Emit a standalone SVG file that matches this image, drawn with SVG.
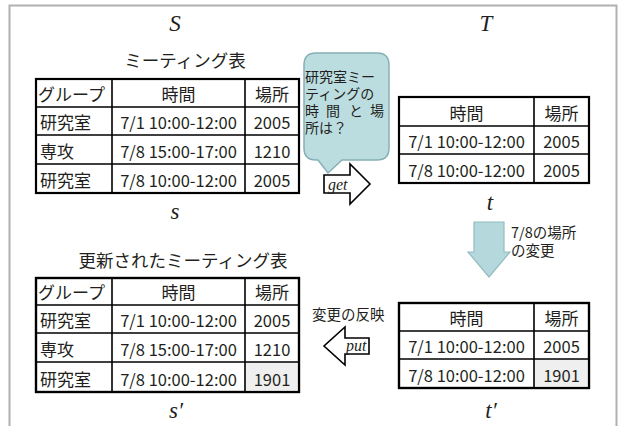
<svg xmlns="http://www.w3.org/2000/svg" width="619" height="426" viewBox="0 0 619 426">
<style>
.jp{font-family:"Noto Sans CJK JP","Noto Sans",sans-serif;fill:#231f20}
.cell{font-size:17px}
.num{font-size:16.5px}
.title{font-size:17.5px}
.small{font-size:14.5px}
.bub{font-size:14px}
.math{font-family:"Liberation Serif",serif;font-style:italic;fill:#231f20}
.big{font-size:23px}
.lbl{font-size:16px}
.outer{fill:#fff;stroke:#000;stroke-width:2.2}
.inner{stroke:#000;stroke-width:1.6}
.shade{fill:#efefef}
.mid{text-anchor:middle}
.hollow{fill:#fff;stroke:#000;stroke-width:1.6;stroke-linejoin:miter}
</style>
<path d="M9.5,426 V5.5 H616.5 V426" fill="none" stroke="#b0b0b0" stroke-width="2"/>

<g id="label-S"><text class="math big mid" x="175" y="31">S</text></g>
<g id="label-T"><text class="math big mid" x="486" y="31">T</text></g>

<g id="table-s">
<text class="jp title mid" x="185" y="67">ミーティング表</text>
<rect class="outer" x="36" y="79" width="263" height="114"/>
<path class="inner" d="M36,107H299M36,135H299M36,164H299M112,79V193M245,79V193"/>
<text class="jp cell" x="38" y="101">グループ</text>
<text class="jp cell mid" x="178.5" y="101">時間</text>
<text class="jp cell mid" x="272" y="101">場所</text>
<text class="jp cell" x="40" y="129">研究室</text>
<text class="jp num mid" x="178.5" y="129">7/1 10:00-12:00</text>
<text class="jp num mid" x="272" y="129">2005</text>
<text class="jp cell" x="40" y="158">専攻</text>
<text class="jp num mid" x="178.5" y="158">7/8 15:00-17:00</text>
<text class="jp num mid" x="272" y="158">1210</text>
<text class="jp cell" x="40" y="187">研究室</text>
<text class="jp num mid" x="178.5" y="187">7/8 10:00-12:00</text>
<text class="jp num mid" x="272" y="187">2005</text>
<text class="math big mid" x="175" y="219">s</text>
</g>

<g id="bubble">
<path d="M316,53 H377 Q389,53 389,65 V148 Q389,160 377,160 H342 L328,173 L318,160 H316 Q304,160 304,148 V65 Q304,53 316,53 Z" fill="#bcdde0" stroke="#86b0b5" stroke-width="1.5"/>
<text class="jp bub" x="305" y="82">研究室ミー</text>
<text class="jp bub" x="305" y="99">ティングの</text>
<text class="jp bub" x="305" y="116">時</text>
<text class="jp bub" x="326" y="116">間</text>
<text class="jp bub" x="349" y="116">と</text>
<text class="jp bub" x="370" y="116">場</text>
<text class="jp bub" x="305" y="133">所は？</text>
</g>

<g id="table-t">
<rect class="outer" x="399" y="97" width="190" height="86"/>
<path class="inner" d="M399,126H589M399,154H589M534,97V183"/>
<text class="jp cell mid" x="466.5" y="120">時間</text>
<text class="jp cell mid" x="561.5" y="120">場所</text>
<text class="jp num mid" x="466.5" y="148">7/1 10:00-12:00</text>
<text class="jp num mid" x="561.5" y="148">2005</text>
<text class="jp num mid" x="466.5" y="177">7/8 10:00-12:00</text>
<text class="jp num mid" x="561.5" y="177">2005</text>
<text class="math big mid" x="490" y="210">t</text>
</g>

<g id="table-s2">
<text class="jp title mid" x="183" y="267">更新されたミーティング表</text>
<rect class="outer" x="36" y="278" width="263" height="114"/>
<rect class="shade" x="245" y="362" width="54" height="30"/>
<rect x="36" y="278" width="263" height="114" fill="none" stroke="#000" stroke-width="2.2"/>
<path class="inner" d="M36,305H299M36,333H299M36,362H299M112,278V392M245,278V392"/>
<text class="jp cell" x="38" y="299">グループ</text>
<text class="jp cell mid" x="178.5" y="299">時間</text>
<text class="jp cell mid" x="272" y="299">場所</text>
<text class="jp cell" x="40" y="327">研究室</text>
<text class="jp num mid" x="178.5" y="327">7/1 10:00-12:00</text>
<text class="jp num mid" x="272" y="327">2005</text>
<text class="jp cell" x="40" y="356">専攻</text>
<text class="jp num mid" x="178.5" y="356">7/8 15:00-17:00</text>
<text class="jp num mid" x="272" y="356">1210</text>
<text class="jp cell" x="40" y="386">研究室</text>
<text class="jp num mid" x="178.5" y="386">7/8 10:00-12:00</text>
<text class="jp num mid" x="272" y="386">1901</text>
<text class="math big mid" x="176" y="418">s′</text>
</g>

<g id="table-t2">
<rect class="outer" x="399" y="303" width="190" height="85"/>
<rect class="shade" x="534" y="359" width="55" height="29"/>
<rect x="399" y="303" width="190" height="85" fill="none" stroke="#000" stroke-width="2.2"/>
<path class="inner" d="M399,331H589M399,359H589M534,303V388"/>
<text class="jp cell mid" x="466.5" y="325">時間</text>
<text class="jp cell mid" x="561.5" y="325">場所</text>
<text class="jp num mid" x="466.5" y="353">7/1 10:00-12:00</text>
<text class="jp num mid" x="561.5" y="353">2005</text>
<text class="jp num mid" x="466.5" y="382">7/8 10:00-12:00</text>
<text class="jp num mid" x="561.5" y="382">1901</text>
<text class="math big mid" x="491" y="418">t′</text>
</g>

<g id="connectors">
<g id="get">
<path class="hollow" d="M324,175 H350 V164 L370,184 L350,204 V193 H324 Z"/>
<text class="math lbl" x="328" y="190">get</text>
</g>
<g id="change">
<path d="M474,222 H504 V252 H510 L489,277 L468,252 H474 Z" fill="#b5d8dc" stroke="#93bcc1" stroke-width="1.2"/>
<text class="jp small" x="511" y="238">7/8の場所</text>
<text class="jp small" x="511" y="256">の変更</text>
</g>
<g id="put">
<text class="jp small" x="312" y="320">変更の反映</text>
<path class="hollow" d="M369,338 H345 V327 L324,346 L345,365 V354 H369 Z"/>
<text class="math lbl" x="346" y="351">put</text>
</g>
</g>
</svg>
